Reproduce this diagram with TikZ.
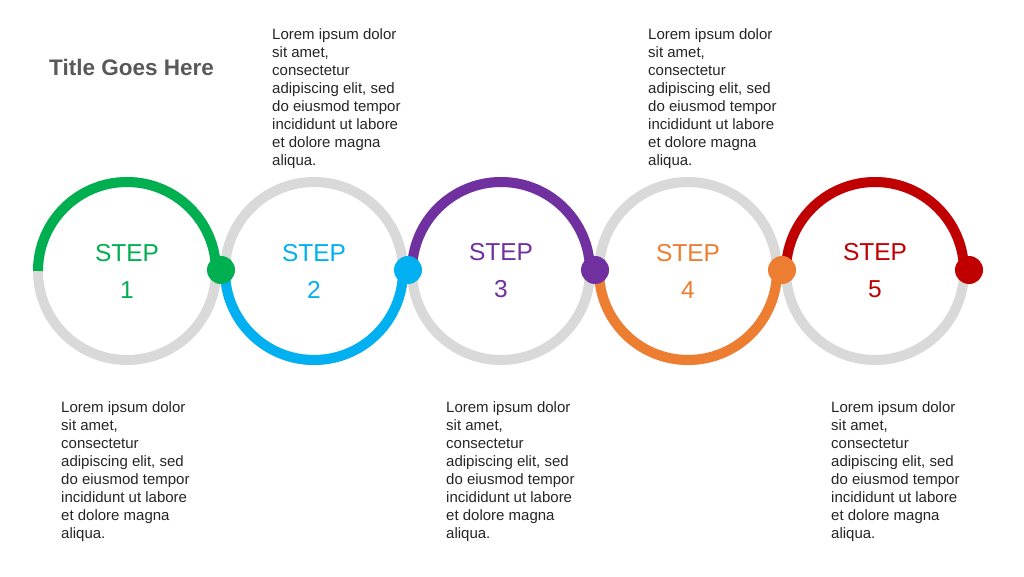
\documentclass[tikz,border=0pt]{standalone}
\usepackage{fontspec}
\setmainfont{Liberation Sans}
\usetikzlibrary{calc}
\definecolor{cgreen}{HTML}{00B050}
\definecolor{cblue}{HTML}{00B0F0}
\definecolor{cpurple}{HTML}{7030A0}
\definecolor{corange}{HTML}{ED7D31}
\definecolor{cred}{HTML}{C00000}
\definecolor{ringgray}{HTML}{D9D9D9}
\definecolor{titlegray}{HTML}{595959}
\definecolor{bodygray}{HTML}{262626}
\newcommand{\loremtext}{\parbox[t]{150pt}{\raggedright Lorem ipsum dolor\\sit amet,\\consectetur\\adipiscing elit, sed\\do eiusmod tempor\\incididunt ut labore\\et dolore magna\\aliqua.}}
\begin{document}
\begin{tikzpicture}[x=1pt,y=1pt,
  ringnode/.style={circle, draw=ringgray, line width=10pt, minimum size=178pt, inner sep=0pt, outer sep=0pt, align=center, font=\fontsize{24.5}{37}\selectfont},
  arcline/.style={line width=10pt, line cap=butt},
  dotnode/.style={circle, inner sep=0pt, outer sep=0pt, minimum size=28pt},
  body/.style={anchor=base west, inner sep=0pt, text=bodygray, font=\fontsize{15}{17.95}\selectfont}]
\useasboundingbox (0,0) rectangle (1024,576);
\fill[white] (0,0) rectangle (1024,576);
\node[anchor=base west, inner sep=0pt, text=titlegray, font=\fontsize{22.5}{27}\selectfont\bfseries] (title) at (49,500.5) {Title Goes Here};
% rings
\node[ringnode, text=cgreen] (c1) at (127,305) {STEP\\1};
\node[ringnode, text=cblue] (c2) at (314,305) {STEP\\2};
\node[ringnode, text=cpurple] (c3) at (501,305) {STEP\\3};
\node[ringnode, text=corange] (c4) at (688,305) {STEP\\4};
\node[ringnode, text=cred] (c5) at (875,305) {STEP\\5};
% coloured arcs
\draw[arcline, cgreen] (c1.west) arc[start angle=180, end angle=0, radius=89];
\draw[arcline, cblue] (c2.west) arc[start angle=180, end angle=360, radius=89];
\draw[arcline, cpurple] (c3.west) arc[start angle=180, end angle=0, radius=89];
\draw[arcline, corange] (c4.west) arc[start angle=180, end angle=360, radius=89];
\draw[arcline, cred] (c5.west) arc[start angle=180, end angle=0, radius=89];
% dots
\node[dotnode, fill=cgreen] (d1) at ([xshift=5pt,yshift=1pt]c1.east) {};
\node[dotnode, fill=cblue] (d2) at ([xshift=5pt,yshift=1pt]c2.east) {};
\node[dotnode, fill=cpurple] (d3) at ([xshift=5pt,yshift=1pt]c3.east) {};
\node[dotnode, fill=corange] (d4) at ([xshift=5pt,yshift=1pt]c4.east) {};
\node[dotnode, fill=cred] (d5) at ([xshift=5pt,yshift=1pt]c5.east) {};
% texts
\node[body] (t2) at (272,536) {\loremtext};
\node[body] (t4) at (648,536) {\loremtext};
\node[body] (t1) at (61,163.5) {\loremtext};
\node[body] (t3) at (446,163.5) {\loremtext};
\node[body] (t5) at (831,163.5) {\loremtext};
\end{tikzpicture}
\end{document}
